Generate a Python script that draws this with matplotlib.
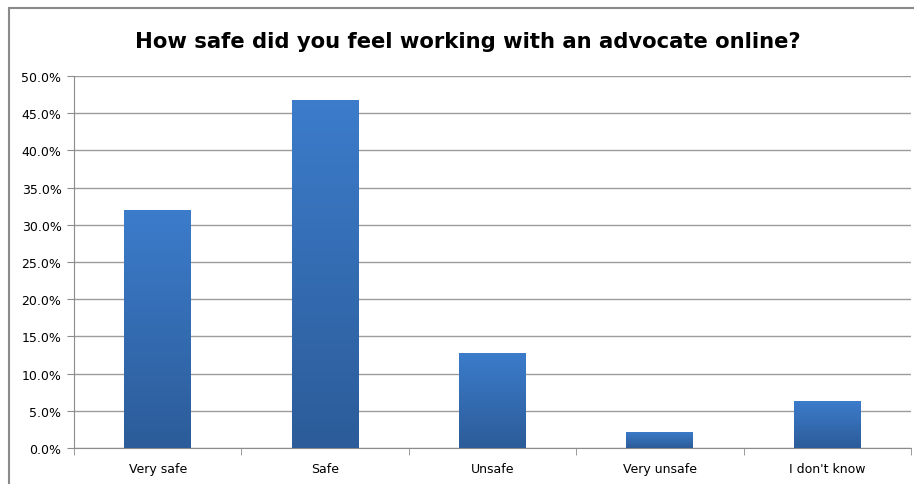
import numpy as np
import matplotlib
matplotlib.use("Agg")
import matplotlib.pyplot as plt
from matplotlib.patches import Rectangle
from matplotlib.colors import LinearSegmentedColormap
from matplotlib.ticker import FuncFormatter, MultipleLocator

categories = ["Very safe", "Safe", "Unsafe", "Very unsafe", "I don't know"]
percent = [32.0, 46.8, 12.8, 2.2, 6.3]
title = "How safe did you feel working with an advocate online?"

plt.rcParams['font.family'] = ['DejaVu Sans']

fig = plt.figure(figsize=(9.14, 4.85), dpi=100)
ax = fig.add_axes([74 / 914, 36 / 485, 837 / 914, 372 / 485])

# outer chart frame (only top and left visible in the crop)
fig.patches.append(Rectangle((9 / 914, -0.1), 1.2, (485 - 9) / 485 + 0.1,
                             transform=fig.transFigure, fill=False,
                             edgecolor="#8a8a8a", lw=1.5))

x = np.arange(len(categories))
bars = ax.bar(x, percent, width=0.4, color="#3a78c3", zorder=3)

# vertical gradient on each bar
cmap = LinearSegmentedColormap.from_list("g", ["#2c5c99", "#3c7ccb"])
grad = np.linspace(0, 1, 256).reshape(-1, 1)
for b in bars:
    x0, y0 = b.get_x(), b.get_y()
    im = ax.imshow(grad, cmap=cmap, origin="lower", aspect="auto",
                   extent=(x0, x0 + b.get_width(), y0, y0 + b.get_height()),
                   zorder=4)
    im.set_clip_path(b)

ax.set_xlim(-0.5, len(categories) - 0.5)
ax.set_ylim(0, 50)
ax.yaxis.set_major_locator(MultipleLocator(5))
ax.yaxis.set_major_formatter(FuncFormatter(lambda v, p: f"{v:.1f}%"))
ax.grid(axis="y", color="#9c9c9c", lw=1, zorder=1)

ax.set_xticks(x)
ax.set_xticklabels(categories, fontsize=9)
ax.set_xticks(np.arange(len(categories) + 1) - 0.5, minor=True)
ax.tick_params(axis="x", which="major", length=0, pad=10)
ax.tick_params(axis="x", which="minor", length=5, color="#8c8c8c")
ax.tick_params(axis="y", length=5, color="#8c8c8c", labelsize=9, pad=4)

for s in ["top", "right"]:
    ax.spines[s].set_visible(False)
for s in ["left", "bottom"]:
    ax.spines[s].set_color("#8c8c8c")

fig.text(468 / 914, 1 - 42 / 485, title, ha="center", va="center",
         fontsize=15.2, fontweight="bold")

fig.savefig("out.png", dpi=100)
